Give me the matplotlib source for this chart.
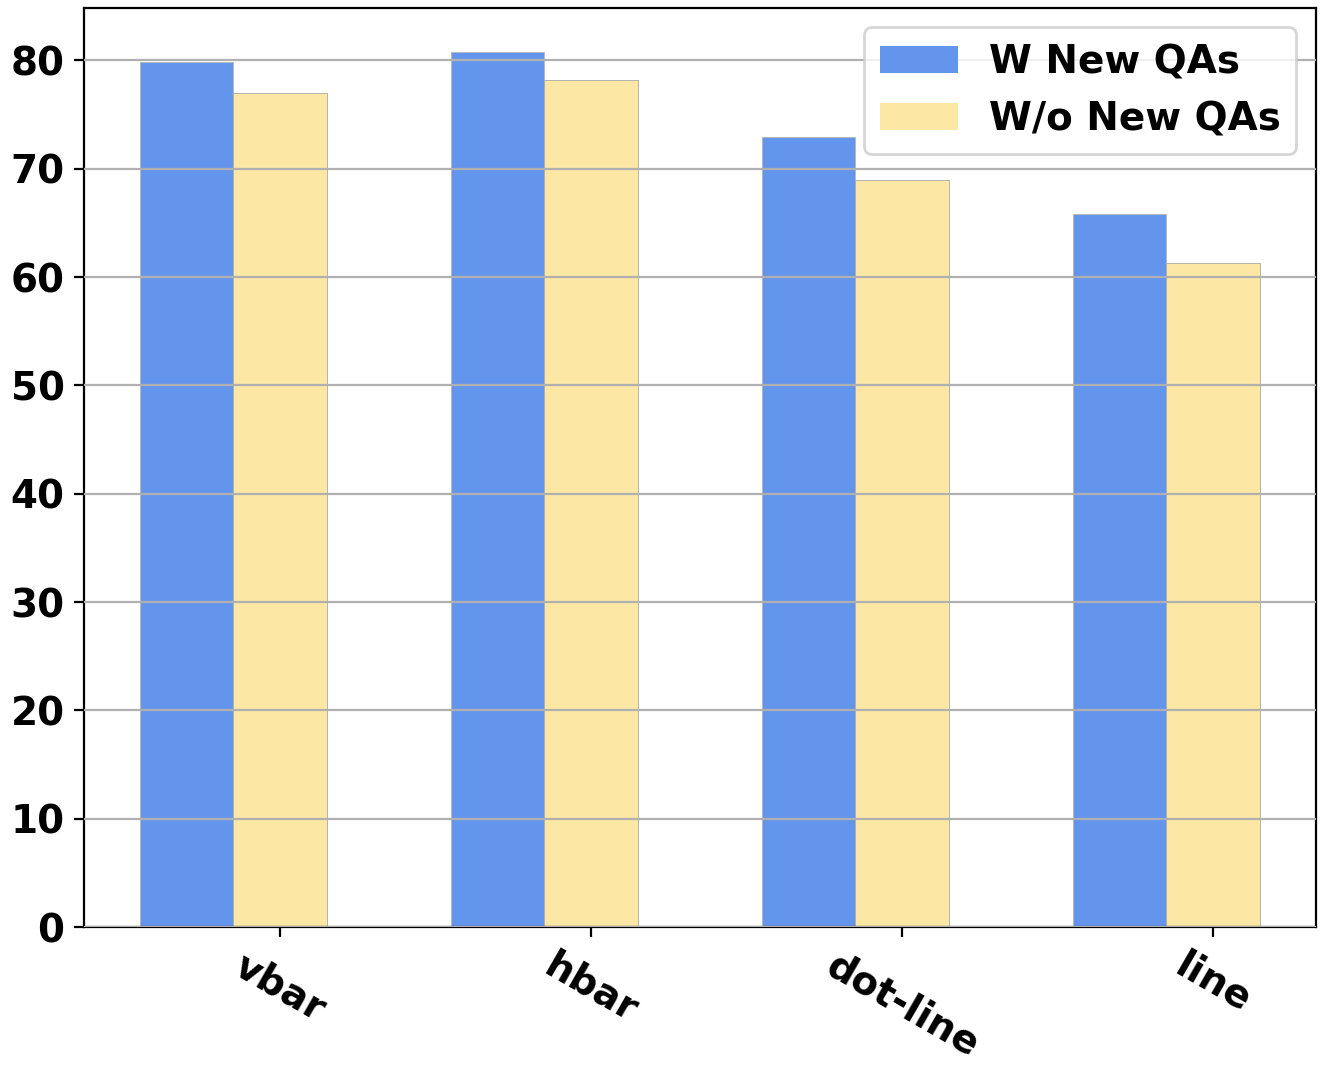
import numpy as np
import matplotlib
matplotlib.use('Agg')
import matplotlib.pyplot as plt

# chart types and scores
categories = ['vbar', 'hbar', 'dot-line', 'line']
w_new = [79.9, 80.8, 72.9, 65.8]      # W New QAs
wo_new = [77.0, 78.2, 69.0, 61.3]     # W/o New QAs

plt.rcParams['font.family'] = ['DejaVu Sans']
plt.rcParams['font.weight'] = 'bold'

fig = plt.figure(figsize=(6.645, 5.345), dpi=200)
ax = fig.add_axes([0.0632, 0.1328, 0.9268, 0.8597])

x = np.arange(len(categories))
width = 0.3
b1 = ax.bar(x - width, w_new, width, color='#6495ED', edgecolor='#b5b5b5', linewidth=0.3, label='W New QAs')
b2 = ax.bar(x, wo_new, width, color='#FCE8A4', edgecolor='#a8a8a8', linewidth=0.3, label='W/o New QAs')

ax.set_xticks(x)
ax.set_xticklabels(categories, rotation=-30, fontsize=14, fontweight='bold')
ax.tick_params(axis='both', labelsize=14)
for lab in ax.get_yticklabels():
    lab.set_fontweight('bold')

ax.yaxis.grid(True, color='#b0b0b0', linewidth=0.8)
ax.set_axisbelow(False)

leg = ax.legend(loc='upper right', prop={'weight': 'bold', 'size': 14})
for h in leg.legend_handles:
    h.set_edgecolor('none')

fig.savefig('out.png', dpi=200)
